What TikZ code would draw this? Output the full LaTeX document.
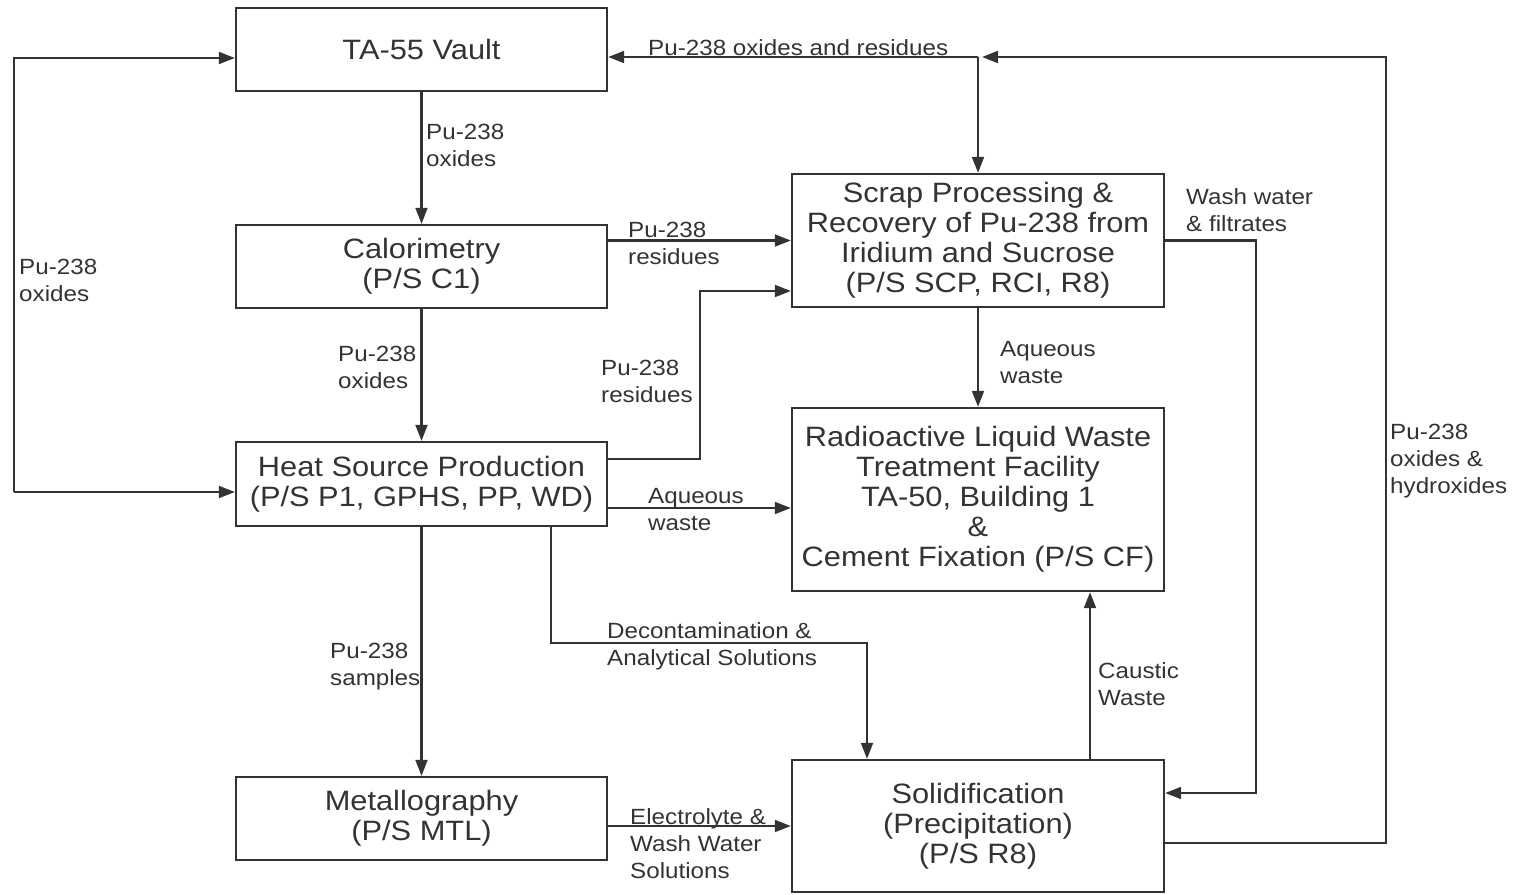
\documentclass[tikz,border=0pt]{standalone}
\usepackage{fontspec}
\setmainfont{Liberation Sans}[FakeStretch=1.1]
\usetikzlibrary{arrows.meta}
\definecolor{ink}{HTML}{333333}
\begin{document}
\begin{tikzpicture}[x=1pt,y=-1pt,
  box/.style={draw=ink,line width=2.4pt,inner sep=0pt,minimum width=371pt,align=center,text=ink,font=\fontsize{28}{30}\selectfont},
  flow/.style={draw=ink,line width=2.1pt,-{Triangle[length=16pt,width=12pt]}},
  lab/.style={anchor=base west,inner sep=0pt,align=left,text=ink,font=\fontsize{22}{27}\selectfont}]
\useasboundingbox (0,0) rectangle (1520,894);

% process boxes
\node[box,minimum height=83pt] (vault) at (421.5,49.5) {TA-55 Vault};
\node[box,minimum height=83pt] (calor) at (421.5,266.5) {Calorimetry\\(P/S C1)};
\node[box,minimum height=84pt] (heat) at (421.5,484) {Heat Source Production\\(P/S P1, GPHS, PP, WD)};
\node[box,minimum height=83pt] (metal) at (421.5,818.5) {Metallography\\(P/S MTL)};
\node[box,minimum width=372pt,minimum height=133pt] (scrap) at (978,240.5) {Scrap Processing \&\\Recovery of Pu-238 from\\Iridium and Sucrose\\(P/S SCP, RCI, R8)};
\node[box,minimum width=372pt,minimum height=183pt] (rlw) at (978,499.5) {Radioactive Liquid Waste\\Treatment Facility\\TA-50, Building 1\\\&\\Cement Fixation (P/S CF)};
\node[box,minimum width=372pt,minimum height=132pt] (solid) at (978,826) {Solidification\\(Precipitation)\\(P/S R8)};

% routing points
\coordinate (lt) at (14,58);
\coordinate (lb) at (14,492);
\coordinate (r1) at (700,459);
\coordinate (r2) at (700,291);
\coordinate (aq) at (0,508);
\coordinate (d1) at (551,643);
\coordinate (d2) at (867,643);
\coordinate (cw) at (1090,0);
\coordinate (w1) at (1256,240.5);
\coordinate (w2) at (1256,793);
\coordinate (p1) at (1386,843);
\coordinate (p2) at (1386,57);
\coordinate (j) at (978,57);

% flows
\draw[flow] (lb) -- (lt) -- (vault.west |- lt);
\draw[flow] (lb) -- (heat.west |- lb);
\draw[flow] (vault.south) -- (calor.north);
\draw[flow] (calor.south) -- (heat.north);
\draw[flow] (heat.south) -- (metal.north);
\draw[flow] (calor.east |- scrap.west) -- (scrap.west);
\draw[flow] (heat.east |- r1) -- (r1) -- (r2) -- (scrap.west |- r2);
\draw[flow] (heat.east |- aq) -- (rlw.west |- aq);
\draw[flow] (heat.south -| d1) -- (d1) -- (d2) -- (solid.north -| d2);
\draw[flow] (metal.east |- solid.west) -- (solid.west);
\draw[flow] (scrap.south) -- (rlw.north);
\draw[flow] (solid.north -| cw) -- (rlw.south -| cw);
\draw[flow] (scrap.east) -- (w1) -- (w2) -- (solid.east |- w2);
\draw[flow,shorten >=4pt] (solid.east |- p1) -- (p1) -- (p2) -- (j);
\draw[flow] (j) -- (vault.east |- j);
\draw[flow] (j) -- (scrap.north);

% flow labels (anchored at the baseline of the last line)
\node[lab] (t1) at (648,55) {Pu-238 oxides and residues};
\node[lab] (t2) at (426,166) {Pu-238\\oxides};
\node[lab] (t3) at (19,301) {Pu-238\\oxides};
\node[lab] (t4) at (338,388) {Pu-238\\oxides};
\node[lab] (t5) at (628,264) {Pu-238\\residues};
\node[lab] (t6) at (601,402) {Pu-238\\residues};
\node[lab] (t7) at (648,530) {Aqueous\\waste};
\node[lab] (t8) at (330,685) {Pu-238\\samples};
\node[lab] (t9) at (607,665) {Decontamination \&\\Analytical Solutions};
\node[lab] (t10) at (630,878) {Electrolyte \&\\Wash Water\\Solutions};
\node[lab] (t11) at (1000,383) {Aqueous\\waste};
\node[lab] (t12) at (1098,705) {Caustic\\Waste};
\node[lab] (t13) at (1186,231) {Wash water\\\& filtrates};
\node[lab] (t14) at (1390,493) {Pu-238\\oxides \&\\hydroxides};
\end{tikzpicture}
\end{document}
